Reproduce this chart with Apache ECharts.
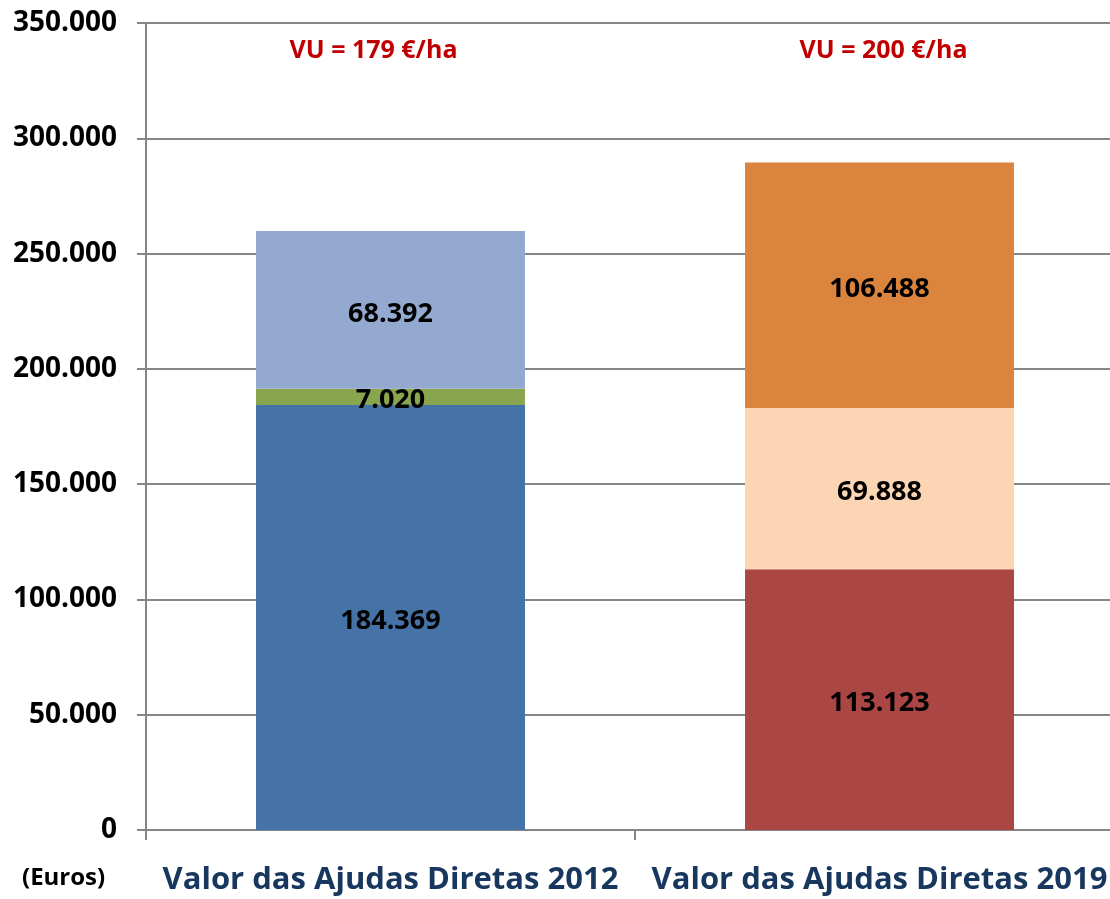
<!DOCTYPE html>
<html>
<head>
    <meta charset="utf-8">
    <title>Ajudas Diretas</title>
    <script src="https://cdn.jsdelivr.net/npm/echarts@6/dist/echarts.min.js"></script>
</head>
<body style="margin:0">
<div id="main" style="width:1110px;height:899px;"></div>
<script type="text/javascript">
    // dados
    var categorias = ['Valor das Ajudas Diretas 2012', 'Valor das Ajudas Diretas 2019'];
    var base = [184369, 113123];
    var meio = [7020, 69888];
    var topo = [68392, 106488];
    var vuLabels = ['VU = 179 €/ha', 'VU = 200 €/ha'];
    var yTicks = [0, 50000, 100000, 150000, 200000, 250000, 300000, 350000];

    var coresBase = ['#4573a7', '#aa4643'];
    var coresMeio = ['#89a54e', '#fcd5b5'];
    var coresTopo = ['#93a9cf', '#db843d'];

    var fonte = '"Open Sans"';

    function fmt(v) {
        return String(v).replace(/\B(?=(\d{3})+(?!\d))/g, '.');
    }

    function itens(valores, cores) {
        return valores.map(function (v, i) {
            return { value: v, itemStyle: { color: cores[i] } };
        });
    }

    var rotulo = {
        show: true,
        position: 'inside',
        offset: [0, 4],
        color: '#000',
        fontFamily: fonte,
        fontWeight: 'bold',
        fontSize: 27,
        formatter: function (p) { return fmt(p.value); }
    };

    var myChart = echarts.init(document.getElementById('main'));

    var option = {
        backgroundColor: '#fff',
        animation: false,
        grid: { left: 146, top: 23, right: -14, bottom: 69, outerBoundsMode: 'none' },
        xAxis: {
            type: 'category',
            data: categorias,
            axisLine: { lineStyle: { color: '#868686', width: 2 } },
            axisTick: { show: true, length: 10, lineStyle: { color: '#868686', width: 2 } },
            axisLabel: {
                color: '#17375e',
                fontFamily: fonte,
                fontWeight: 'bold',
                fontSize: 31,
                margin: 35,
                interval: 0
            }
        },
        yAxis: {
            type: 'value',
            min: 0,
            max: yTicks[yTicks.length - 1],
            interval: yTicks[1] - yTicks[0],
            axisLine: { show: true, lineStyle: { color: '#868686', width: 2 } },
            axisTick: { show: true, length: 9, lineStyle: { color: '#868686', width: 2 } },
            splitLine: { lineStyle: { color: '#868686', width: 2 } },
            axisLabel: {
                color: '#000',
                fontFamily: fonte,
                fontWeight: 'bold',
                fontSize: 28,
                margin: 29,
                formatter: fmt
            }
        },
        graphic: [{
            type: 'text',
            left: 22,
            top: 866,
            style: {
                text: '(Euros)',
                fill: '#000',
                font: 'bold 24px ' + fonte
            }
        }],
        series: [
            {
                name: 'base',
                type: 'bar',
                stack: 'total',
                barWidth: '55%',
                data: itens(base, coresBase),
                label: rotulo,
                markPoint: {
                    symbol: 'rect',
                    symbolSize: 1,
                    itemStyle: { color: 'transparent' },
                    label: {
                        show: true,
                        position: 'inside',
                        color: '#c00000',
                        fontFamily: fonte,
                        fontWeight: 'bold',
                        fontSize: 25,
                        formatter: function (p) { return p.name; }
                    },
                    data: [
                        { name: vuLabels[0], coord: [0, 338000], label: { offset: [-17, 0] } },
                        { name: vuLabels[1], coord: [1, 338000], label: { offset: [4, 0] } }
                    ]
                }
            },
            {
                name: 'meio',
                type: 'bar',
                stack: 'total',
                data: itens(meio, coresMeio),
                label: rotulo
            },
            {
                name: 'topo',
                type: 'bar',
                stack: 'total',
                data: itens(topo, coresTopo),
                label: rotulo
            }
        ]
    };

    myChart.setOption(option);
</script>
</body>
</html>
